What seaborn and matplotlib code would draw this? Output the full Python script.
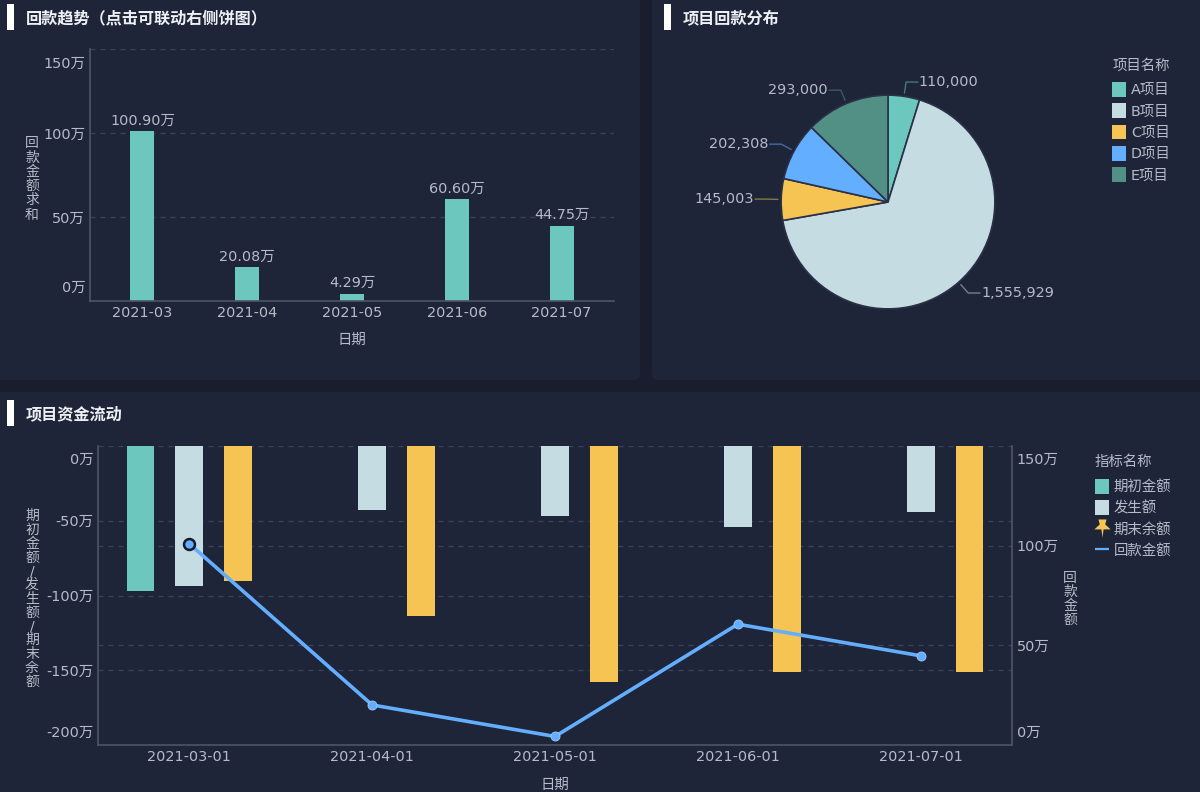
import numpy as np
import pandas as pd
import matplotlib
matplotlib.use("Agg")
import matplotlib.pyplot as plt
from matplotlib.lines import Line2D
from matplotlib.patches import FancyBboxPatch, Patch, Rectangle
from matplotlib.path import Path
from matplotlib.transforms import ScaledTranslation
import seaborn as sns

months = ["2021-03", "2021-04", "2021-05", "2021-06", "2021-07"]
dates = ["2021-03-01", "2021-04-01", "2021-05-01", "2021-06-01", "2021-07-01"]
huikuan = [100.90, 20.08, 4.29, 60.60, 44.75]

projects = ["A项目", "B项目", "C项目", "D项目", "E项目"]
project_vals = [110000, 1555929, 145003, 202308, 293000]

qichu = [-97, np.nan, np.nan, np.nan, np.nan]
fasheng = [-93.5, -43, -46.5, -54, -44]
qimo = [-90.5, -114, -158, -151, -151]

left_ticks = [0, 50, 100, 150]
low_ticks = [0, -50, -100, -150, -200]
right_ticks = [0, 50, 100, 150]

TEAL = "#6cc8bf"
PALE = "#c5dde2"
YELLOW = "#f6c453"
BLUE = "#64aeff"
GREEN = "#529086"
PANEL = "#1f2539"
GAP = "#191d2d"
TEXT = "#b6bbc8"
GRID = "#3b4259"
SPINE = "#4d5369"
FS = 10.4
W, H = 1200, 792

sns.set_theme(style="dark")
plt.rcParams["font.family"] = ["DejaVu Sans", "Noto Sans CJK SC"]
plt.rcParams["font.size"] = FS
plt.rcParams["axes.unicode_minus"] = False

fig = plt.figure(figsize=(W / 100, H / 100), dpi=100, facecolor=GAP)


def px_axes(x0, y0, x1, y1):
    ax = fig.add_axes([x0 / W, 1 - y1 / H, (x1 - x0) / W, (y1 - y0) / H])
    ax.set_facecolor("none")
    return ax


def nudge(label, dy_px):
    label.set_transform(label.get_transform() + ScaledTranslation(0, -dy_px / 100, fig.dpi_scale_trans))


def style_axes(ax):
    ax.grid(True, axis="y", which="both", color=GRID, linestyle=(0, (4, 4)), linewidth=0.9)
    ax.grid(False, axis="x")
    ax.set_axisbelow(True)
    ax.tick_params(axis="both", which="both", length=0, labelsize=FS, labelcolor=TEXT, pad=3.5)
    for side in ["top", "right"]:
        ax.spines[side].set_visible(False)
    for side in ["left", "bottom"]:
        ax.spines[side].set_color(SPINE)
        ax.spines[side].set_linewidth(1.2)


def vtext(x, y, s, spacing=1.02):
    bg.text(x, y, "\n".join(s), color=TEXT, fontsize=10, ha="center", va="center", linespacing=spacing)


# panels and titles
bg = px_axes(0, 0, W, H)
bg.set_xlim(0, W)
bg.set_ylim(H, 0)
bg.axis("off")
for x0, y0, x1, y1 in [(-10, -10, 640, 380), (652, -10, 1210, 380), (-10, 392, 1210, 802)]:
    bg.add_patch(FancyBboxPatch((x0, y0), x1 - x0, y1 - y0, boxstyle="round,pad=0,rounding_size=5",
                                facecolor=PANEL, edgecolor="none"))
for x, y, s in [(7, 4, "回款趋势（点击可联动右侧饼图）"), (664, 4, "项目回款分布"), (7, 400, "项目资金流动")]:
    bg.add_patch(Rectangle((x, y), 7, 26, facecolor="white", edgecolor="none"))
    bg.text(x + 19, y + 14, s, color="#eef0f4", fontsize=11.65, fontweight="bold", va="center")

# top left bars
ax1 = px_axes(90, 49, 614, 301)
sns.barplot(x=months, y=huikuan, color=TEAL, saturation=1, width=0.229, edgecolor="none", linewidth=0, ax=ax1)
style_axes(ax1)
ax1.set_ylim(0, 150)
ax1.set_yticks(left_ticks)
ax1.set_yticklabels([f"{v}万" for v in left_ticks])
nudge(ax1.get_yticklabels()[0], -15)
nudge(ax1.get_yticklabels()[-1], 13)
ax1.bar_label(ax1.containers[0], labels=[f"{v:.2f}万" for v in huikuan], color=TEXT, fontsize=FS, padding=2.5)
ax1.set_xlabel("")
bg.text(352, 340, "日期", color=TEXT, fontsize=FS, ha="center", va="center")
vtext(32, 179, "回款金额求和")

# pie, starts at twelve o'clock and runs clockwise
ax2 = px_axes(717, 31, 1059, 373)
wedges, _ = ax2.pie(project_vals, colors=[TEAL, PALE, YELLOW, BLUE, GREEN], startangle=90, counterclock=False,
                    radius=1, wedgeprops={"edgecolor": "#2a3046", "linewidth": 1.2})
ax2.set_xlim(-1.6, 1.6)
ax2.set_ylim(-1.6, 1.6)
for w, val in zip(wedges, project_vals):
    ang = np.deg2rad((w.theta1 + w.theta2) / 2)
    sx, sy = 1.03 * np.cos(ang), 1.03 * np.sin(ang)
    ex, ey = 1.135 * np.cos(ang), 1.135 * np.sin(ang)
    side = 1 if np.cos(ang) >= 0 else -1
    tx = ex + side * 0.11
    ax2.plot([sx, ex, tx], [sy, ey, ey], color=w.get_facecolor(), alpha=0.5, linewidth=1)
    ax2.text(tx + side * 0.01, ey, f"{val:,}", color=TEXT, fontsize=FS, va="center",
             ha="left" if side > 0 else "right")

# bottom grouped bars
flow = pd.DataFrame({"日期": dates, "期初金额": qichu, "发生额": fasheng, "期末余额": qimo})
flow = flow.melt(id_vars="日期", var_name="指标", value_name="金额")
ax3 = px_axes(98, 446, 1012, 745)
sns.barplot(data=flow, x="日期", y="金额", hue="指标", hue_order=["期初金额", "发生额", "期末余额"],
            palette=[TEAL, PALE, YELLOW], saturation=1, width=0.803, gap=0.43, legend=False,
            edgecolor="none", linewidth=0, ax=ax3)
style_axes(ax3)
ax3.set_ylim(-200, 0)
ax3.set_yticks(low_ticks)
ax3.set_yticklabels([f"{v}万" for v in low_ticks])
# right axis gridlines sit under the bars too, so they live on the left axis as minor ticks
ax3.set_yticks([v / 150 * 200 - 200 for v in right_ticks], minor=True)
ax3.tick_params(axis="y", which="minor", labelleft=False)
nudge(ax3.get_yticklabels()[0], 12)
nudge(ax3.get_yticklabels()[-1], -14)
ax3.set_xlabel("")
ax3.set_ylabel("")
ax3.spines["right"].set_visible(True)
ax3.spines["right"].set_color(SPINE)
bg.text(555, 785, "日期", color=TEXT, fontsize=FS, ha="center", va="center")
vtext(32, 599, "期初金额/发生额/期末余额", spacing=0.98)
vtext(1070, 599, "回款金额")

# line on the right axis
ax4 = ax3.twinx()
ax4.set_facecolor("none")
sns.lineplot(x=np.arange(len(dates)), y=huikuan, color=BLUE, linewidth=2.6, marker="o", markersize=6.5,
             markeredgecolor="#9ccbff", markeredgewidth=0.6, ax=ax4)
sns.scatterplot(x=[0], y=huikuan[:1], color=BLUE, s=62, edgecolor="#141a2c", linewidth=1.8, zorder=5, ax=ax4)
ax3.set_xlim(-0.5, len(dates) - 0.5)
ax4.set_ylim(0, 150)
ax4.set_yticks(right_ticks)
ax4.set_yticklabels([f"{v}万" for v in right_ticks])
ax4.grid(False)
ax4.tick_params(axis="y", length=0, labelsize=FS, labelcolor=TEXT, pad=3.5)
for side in ["top", "left", "bottom", "right"]:
    ax4.spines[side].set_visible(False)
nudge(ax4.get_yticklabels()[0], -14)
nudge(ax4.get_yticklabels()[-1], 12)

# legends
leg_kw = dict(loc="upper left", frameon=False, bbox_transform=bg.transData, fontsize=FS,
              handlelength=1, handleheight=1.2, labelspacing=0.42, handletextpad=0.3, borderpad=0, borderaxespad=0,
              labelcolor=TEXT)
bg.text(1113, 66, "项目名称", color=TEXT, fontsize=FS, va="center")
leg1 = bg.legend([Patch(facecolor=c, edgecolor="none") for c in [TEAL, PALE, YELLOW, BLUE, GREEN]], projects,
                 bbox_to_anchor=(1112, 82), **leg_kw)
bg.add_artist(leg1)

pin = Path([(-0.45, 1), (0.45, 1), (0.3, 0.45), (0.9, -0.1), (0.12, -0.1), (0, -1), (-0.12, -0.1),
            (-0.9, -0.1), (-0.3, 0.45), (-0.45, 1)], closed=True)
handles = [Patch(facecolor=TEAL, edgecolor="none"), Patch(facecolor=PALE, edgecolor="none"),
           Line2D([], [], linestyle="none", marker=pin, markersize=13, color=YELLOW, markeredgewidth=0),
           Line2D([], [], linestyle="none", marker="_", markersize=10, color=BLUE, markeredgewidth=1.6)]
bg.text(1095, 462, "指标名称", color=TEXT, fontsize=FS, va="center")
leg2 = bg.legend(handles, ["期初金额", "发生额", "期末余额", "回款金额"], bbox_to_anchor=(1095, 479), **leg_kw)

fig.savefig("out.png", dpi=100, facecolor=GAP)
